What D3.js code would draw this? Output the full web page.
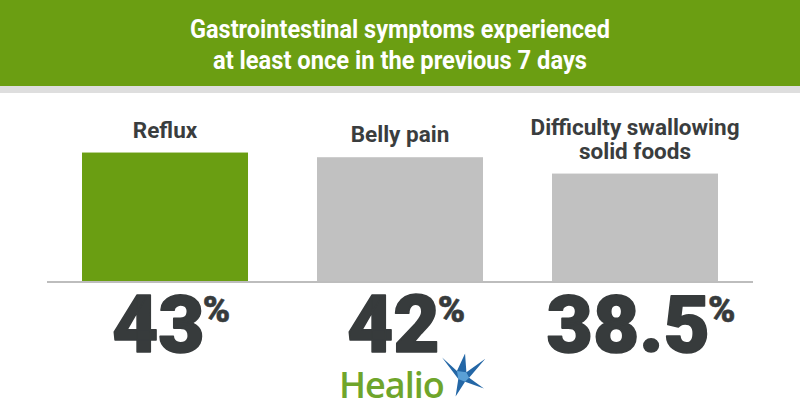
<!DOCTYPE html>
<html>
<head>
<meta charset="utf-8">
<script src="https://cdn.jsdelivr.net/npm/d3@7"></script>
<style>
  html, body { margin: 0; padding: 0; background: #ffffff; }
  svg { display: block; }
</style>
</head>
<body>
<script>
const titleLines = ["Gastrointestinal symptoms experienced", "at least once in the previous 7 days"];
const categories = ["Reflux", "Belly pain", "Difficulty swallowing solid foods"];
const categoryLabelLines = [["Reflux"], ["Belly pain"], ["Difficulty swallowing", "solid foods"]];
const values = [43, 42, 38.5];
const valueLabels = ["43", "42", "38.5"];
const highlighted = [true, false, false];

const W = 800, H = 420;
const svg = d3.select("body").append("svg").attr("width", W).attr("height", H);

// header band
svg.append("rect").attr("x", 0).attr("y", 0).attr("width", W).attr("height", 86).attr("fill", "#6b9e12");
svg.append("rect").attr("x", 0).attr("y", 86).attr("width", W).attr("height", 7).attr("fill", "#dedede");

const titleWidths = [420, 374];
svg.selectAll("text.title").data(titleLines).enter().append("text")
  .attr("class", "title")
  .attr("x", W / 2)
  .attr("y", (d, i) => 38 + i * 31)
  .attr("text-anchor", "middle")
  .attr("textLength", (d, i) => titleWidths[i])
  .attr("lengthAdjust", "spacingAndGlyphs")
  .style("font-family", "Roboto, 'Liberation Sans', sans-serif")
  .style("font-weight", 700)
  .style("font-size", "25px")
  .attr("fill", "#ffffff")
  .text(d => d);

// scales
const x = d3.scaleBand().domain(categories).range([47, 753]).paddingInner(0.2936).paddingOuter(0.149);
const y = d3.scaleLinear().domain([15.5, 45]).range([281, 143.2]);

const data = categories.map((c, i) => ({ c, v: values[i], label: valueLabels[i], lines: categoryLabelLines[i], hi: highlighted[i] }));

svg.selectAll("rect.bar").data(data).enter().append("rect")
  .attr("class", "bar")
  .attr("x", d => x(d.c))
  .attr("width", x.bandwidth())
  .attr("y", d => y(d.v))
  .attr("height", d => y.range()[0] - y(d.v))
  .attr("fill", d => d.hi ? "#6a9e12" : "#c1c1c1");

// baseline
svg.append("line")
  .attr("x1", x.range()[0]).attr("x2", x.range()[1])
  .attr("y1", 282).attr("y2", 282)
  .attr("stroke", "#bdbdbd").attr("stroke-width", 2);

// category labels
const lab = svg.selectAll("g.lab").data(data).enter().append("g")
  .attr("class", "lab")
  .attr("transform", d => `translate(${x(d.c) + x.bandwidth() / 2},${y(d.v) - 15})`);
lab.each(function(d) {
  const g = d3.select(this);
  const n = d.lines.length;
  d.lines.forEach((line, j) => {
    g.append("text")
      .attr("x", 0)
      .attr("y", (j - (n - 1)) * 24)
      .attr("text-anchor", "middle")
      .style("font-family", "Roboto, 'Liberation Sans', sans-serif")
      .style("font-weight", 700)
      .style("font-size", "22.5px")
      .attr("fill", "#3a3d3e")
      .text(line);
  });
});

// value labels
const vt = svg.selectAll("text.val").data(data).enter().append("text")
  .attr("class", "val")
  .attr("x", d => x(d.c) + x.bandwidth() / 2 + 6)
  .attr("y", 352)
  .attr("text-anchor", "middle")
  .style("font-family", "Roboto, 'Liberation Sans', sans-serif")
  .style("font-weight", 900)
  .attr("fill", "#373b3c")
  .attr("stroke", "#373b3c")
  .attr("stroke-width", 1.6)
  .attr("stroke-linejoin", "round");
vt.append("tspan").style("font-size", "80px").text(d => d.label);
vt.append("tspan").style("font-size", "37px").attr("stroke-width", 0.6).attr("dx", -2).attr("dy", -30).text("%");

// Healio logo
const logo = svg.append("g").attr("class", "logo");
logo.append("text")
  .attr("x", 339).attr("y", 398)
  .style("font-family", "'Open Sans', Lato, sans-serif")
  .style("font-weight", 600)
  .style("font-size", "36px")
  .attr("fill", "#6fa52b")
  .attr("letter-spacing", "-1")
  .text("Healio");
// star
const sc = [461, 375];
const k = 1.35;
const pts = [
  [-14, -13], [-3, -3], [3, -16], [4, -2], [18, -12], [6, 2], [17, 10], [3, 5], [-4, 16], [-2, 3], [-14, -13]
];
logo.append("path")
  .attr("d", d3.line()(pts.map(p => [sc[0] + k * p[0], sc[1] + k * p[1]])) + "Z")
  .attr("fill", "#2467a6");
logo.append("path")
  .attr("d", d3.line()([[-3, -3], [4, -2], [6, 2], [3, 5], [-2, 3]].map(p => [sc[0] + k * p[0], sc[1] + k * p[1]])) + "Z")
  .attr("fill", "#5aa0d6");
</script>
</body>
</html>
